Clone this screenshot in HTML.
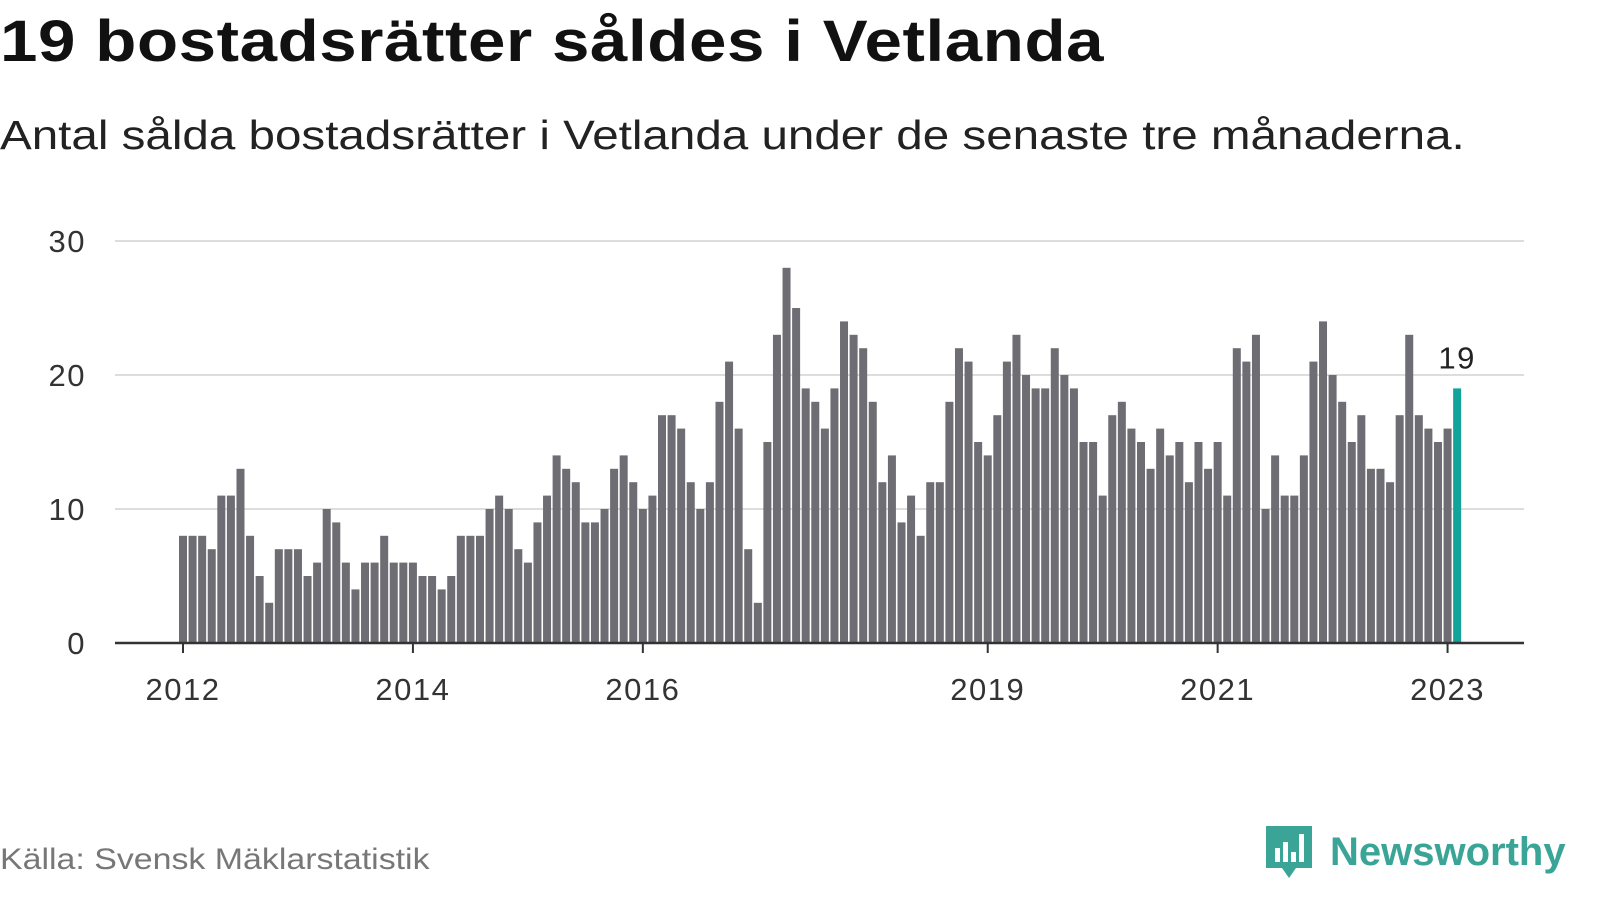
<!DOCTYPE html>
<html><head><meta charset="utf-8"><style>
body{margin:0;width:1600px;height:900px;background:#fff;font-family:"Liberation Sans",sans-serif;overflow:hidden;position:relative}
h1{position:absolute;left:0;top:8px;margin:0;font-size:58px;font-weight:bold;color:#111;letter-spacing:0.5px;transform:scaleX(1.16);transform-origin:0 0;white-space:nowrap}
.sub{position:absolute;left:0;top:112px;font-size:41px;color:#222;transform:scaleX(1.16);transform-origin:0 0;white-space:nowrap}
.src{position:absolute;left:0;top:843px;font-size:30px;color:#777;transform:scaleX(1.13);transform-origin:0 0;white-space:nowrap}
.logo{position:absolute;left:1264px;top:822px;display:flex;align-items:center}
</style></head><body>
<h1>19 bostadsrätter såldes i Vetlanda</h1>
<div class="sub">Antal sålda bostadsrätter i Vetlanda under de senaste tre månaderna.</div>
<svg id="chart" width="1600" height="800" style="position:absolute;left:0;top:0"></svg>
<div class="src">Källa: Svensk Mäklarstatistik</div>
<div class="logo">
<svg width="50" height="60" viewBox="0 0 50 60"><path d="M2 4h46v42H32l-7 10-7-10H2z" fill="#3aa597"/><rect x="11" y="26" width="5" height="14" fill="#fff"/><rect x="19" y="20" width="5" height="20" fill="#fff"/><rect x="27" y="30" width="5" height="10" fill="#fff"/><rect x="35" y="12" width="5" height="28" fill="#fff"/></svg>
<span style="font-size:40px;font-weight:bold;color:#3aa597;margin-left:16px">Newsworthy</span></div>
<script>
const startYear=2012;
const values=[8,8,8,7,11,11,13,8,5,3,7,7,
7,5,6,10,9,6,4,6,6,8,6,6,
6,5,5,4,5,8,8,8,10,11,10,7,
6,9,11,14,13,12,9,9,10,13,14,12,
10,11,17,17,16,12,10,12,18,21,16,7,
3,15,23,28,25,19,18,16,19,24,23,22,
18,12,14,9,11,8,12,12,18,22,21,15,
14,17,21,23,20,19,19,22,20,19,15,15,
11,17,18,16,15,13,16,14,15,12,15,13,
15,11,22,21,23,10,14,11,11,14,21,24,
20,18,15,17,13,13,12,17,23,17,16,15,
16,19];
const yTicks=[0,10,20,30];
const xTickYears=[2012,2014,2016,2019,2021,2023];
const NS="http://www.w3.org/2000/svg";
const svg=document.getElementById('chart');
const x0=183,step=9.58,y0=643,yk=13.4;
const xs=i=>x0+i*step;
const ys=v=>y0-v*yk;
function mk(t,a){const e=document.createElementNS(NS,t);for(const k in a)e.setAttribute(k,a[k]);svg.appendChild(e);return e;}
yTicks.forEach(v=>{
  if(v>0){const g=mk('line',{x1:115,x2:1524,y1:ys(v),y2:ys(v),stroke:'#ddd','stroke-width':2});
  
  }
  const t=mk('text',{x:86,y:ys(v)+11,'text-anchor':'end','font-size':31,'letter-spacing':1.5,fill:'#333','font-family':'Liberation Sans, sans-serif'});
  t.textContent=v;
  
  
});
values.forEach((v,i)=>{
  const last=i===values.length-1;
  const r=mk('rect',{x:xs(i)-4,y:ys(v),width:8,height:v*yk,fill:last?'#14a39a':'#6e6d73'});
  
  
  if(last){const t=mk('text',{x:xs(i),y:ys(v)-20,'text-anchor':'middle','font-size':31,'letter-spacing':1.5,fill:'#222','font-family':'Liberation Sans, sans-serif'});
  t.textContent=v;
  
  }
});
const ax=mk('line',{x1:115,x2:1524,y1:y0,y2:y0,stroke:'#333','stroke-width':2.5});


xTickYears.forEach(yr=>{
  const x=xs((yr-startYear)*12);
  const l=mk('line',{x1:x,x2:x,y1:y0,y2:y0+10,stroke:'#333','stroke-width':2});
  
  
  const t=mk('text',{x:x,y:700,'text-anchor':'middle','font-size':31,'letter-spacing':1.5,fill:'#333','font-family':'Liberation Sans, sans-serif'});
  t.textContent=yr;
  
  
});
</script>
</body></html>
